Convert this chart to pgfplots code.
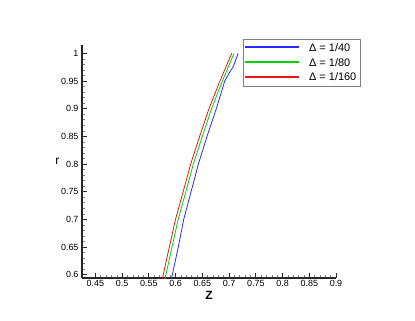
\documentclass[border=0pt]{standalone}
\usepackage{pgfplots}
\pgfplotsset{compat=1.18}
\usepackage{fontspec}
\setmainfont{Liberation Sans}
\definecolor{tblue}{RGB}{40,40,255}
\definecolor{tgreen}{RGB}{0,210,0}
\definecolor{tred}{RGB}{235,20,20}
\definecolor{axgray}{RGB}{40,40,40}
\begin{document}
\begin{tikzpicture}
\path[use as bounding box] (-82bp,-43bp) rectangle (333bp,278bp);
\begin{axis}[
  at={(0,0)}, anchor=south west,
  scale only axis, width=254bp, height=233bp,
  xmin=0.425, xmax=0.9, ymin=0.594, ymax=1.015,
  axis lines=left, axis line style={axgray, line width=1.1pt, -},
  xtick={0.45,0.5,...,0.9}, ytick={0.6,0.65,...,1.0},
  xticklabels={0.45,0.5,0.55,0.6,0.65,0.7,0.75,0.8,0.85,0.9},
  yticklabels={0.6,0.65,0.7,0.75,0.8,0.85,0.9,0.95,1},
  minor tick num=4,
  tick align=inside,
  major tick length=5bp, minor tick length=3bp,
  major tick style={axgray, line width=0.9pt},
  minor tick style={gray, line width=0.5pt},
  tick label style={font=\fontsize{9}{10}\selectfont, black},
  xticklabel style={yshift=1bp},
  /pgf/number format/assume math mode=true,
  xlabel={\fontsize{12}{14}\selectfont\bfseries Z},
  ylabel={\fontsize{12}{14}\selectfont r},
  xlabel style={at={(axis description cs:0.5,0)}, anchor=north, yshift=-10bp},
  ylabel style={at={(axis description cs:0,0.5)}, rotate=-90, anchor=east, xshift=-19bp},
  clip=true,
  legend style={at={(axis description cs:0.634,1.024)}, anchor=north west,
    draw=gray, line width=0.6pt, fill=white, font=\fontsize{11}{13}\selectfont,
    row sep=1.5pt, inner xsep=2pt, inner ysep=1.5pt},
  legend cell align=left,
  legend image code/.code={\fill[#1] (0,-0.4bp) rectangle (53bp,0.4bp);},
]
\addplot[tblue, line width=0.8pt] coordinates {
 (0.5917,0.59) (0.6051,0.65) (0.6152,0.7) (0.6290,0.75) (0.6427,0.8)
 (0.6588,0.85) (0.6762,0.9) (0.6920,0.95) (0.7019,0.967) (0.708,0.976) (0.717,1.0)};
\addlegendentry{\hspace{8bp}Δ = 1/40}
\addplot[tgreen, line width=0.8pt] coordinates {
 (0.5797,0.59) (0.5933,0.65) (0.6049,0.7) (0.6192,0.75) (0.6333,0.8)
 (0.6500,0.85) (0.6673,0.9) (0.6876,0.95) (0.7093,1.0)};
\addlegendentry{\hspace{8bp}Δ = 1/80}
\addplot[tred, line width=0.8pt] coordinates {
 (0.5747,0.59) (0.5883,0.65) (0.5999,0.7) (0.6142,0.75) (0.6283,0.8)
 (0.6450,0.85) (0.6625,0.9) (0.6830,0.95) (0.7050,1.0)};
\addlegendentry{\hspace{8bp}Δ = 1/160}
\end{axis}
\end{tikzpicture}
\end{document}
